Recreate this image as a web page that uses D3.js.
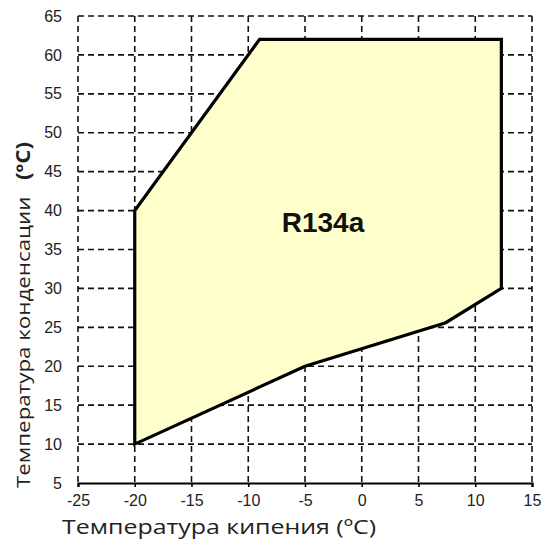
<!DOCTYPE html>
<html>
<head>
<meta charset="utf-8">
<script src="https://cdn.jsdelivr.net/npm/d3@7"></script>
<style>
  body { margin: 0; background: #fff; }
  svg { display: block; }
  .axis-title { font-family: "Open Sans", "Noto Sans", sans-serif; fill: #222; }
</style>
</head>
<body>
<div id="chart"></div>
<script>
// Evaporation temperature (x) and condensation temperature (y) ticks
const xTicks = [-25, -20, -15, -10, -5, 0, 5, 10, 15];
const yTicks = [5, 10, 15, 20, 25, 30, 35, 40, 45, 50, 55, 60, 65];

// Operating envelope outline for R134a
const envelopeX = [-20, -20, -9, 12.3, 12.3, 7.4, -5, -20];
const envelopeY = [10, 40, 62, 62, 30, 25.6, 20, 10];

const seriesLabel = 'R134a';
const xTitle = 'Температура кипения (ºC)';
const yTitle = 'Температура конденсации';
const yUnit = '(ºC)';

const width = 547, height = 549;
const plot = { left: 78, right: 532, top: 16, bottom: 483 };
const tickFont = 'Arial, "Liberation Sans", sans-serif';

const svg = d3.select('#chart').append('svg')
    .attr('width', width)
    .attr('height', height);

const x = d3.scaleLinear().domain([-25, 15]).range([plot.left, plot.right]);
const y = d3.scaleLinear().domain([5, 65]).range([plot.bottom, plot.top]);

// Dashed grid
const grid = svg.append('g');
xTicks.forEach(t => {
    grid.append('line')
        .attr('x1', x(t)).attr('x2', x(t))
        .attr('y1', y(65)).attr('y2', y(5))
        .attr('stroke', '#111')
        .attr('stroke-width', 1.6)
        .attr('stroke-dasharray', '6,4');
});
yTicks.slice(1).forEach(t => {
    grid.append('line')
        .attr('x1', x(-25)).attr('x2', x(15))
        .attr('y1', y(t)).attr('y2', y(t))
        .attr('stroke', '#111')
        .attr('stroke-width', 1.6)
        .attr('stroke-dasharray', '6,4');
});

// Envelope polygon
const pts = envelopeX.map((v, i) => [x(v), y(envelopeY[i])]);
svg.append('path')
    .attr('d', d3.line()(pts) + 'Z')
    .attr('fill', '#ffffcc')
    .attr('stroke', '#000')
    .attr('stroke-width', 3.2)
    .attr('stroke-linejoin', 'miter');

// Bottom axis
const xAxis = svg.append('g')
    .attr('transform', `translate(0,${plot.bottom})`)
    .call(d3.axisBottom(x).tickValues(xTicks).tickSize(4).tickFormat(d => String(d)));
xAxis.select('.domain').attr('stroke', '#000').attr('stroke-width', 2.2);
xAxis.selectAll('.tick line').attr('stroke', '#000').attr('stroke-width', 1.6);
xAxis.selectAll('.tick text')
    .attr('y', 12)
    .attr('dy', '0.71em')
    .attr('fill', '#222')
    .style('font-size', '16px')
    .style('font-family', tickFont);

// Left axis
const yAxis = svg.append('g')
    .attr('transform', `translate(${plot.left},0)`)
    .call(d3.axisLeft(y).tickValues(yTicks).tickSize(0).tickPadding(16).tickFormat(d => String(d)));
yAxis.select('.domain').remove();
yAxis.selectAll('.tick text')
    .attr('fill', '#222')
    .style('font-size', '16px')
    .style('font-family', tickFont);

// Series label
svg.append('text')
    .attr('x', 323)
    .attr('y', 232)
    .attr('text-anchor', 'middle')
    .attr('font-family', tickFont)
    .attr('font-weight', 'bold')
    .attr('font-size', 28)
    .attr('fill', '#111')
    .text(seriesLabel);

// X title
svg.append('text')
    .attr('class', 'axis-title')
    .attr('x', 62)
    .attr('y', 534)
    .attr('font-size', 20)
    .attr('textLength', 314)
    .attr('lengthAdjust', 'spacingAndGlyphs')
    .text(xTitle);

// Y title
const yt = svg.append('text')
    .attr('class', 'axis-title')
    .attr('transform', 'translate(30,488) rotate(-90)')
    .attr('font-size', 19)
    .attr('textLength', 346)
    .attr('lengthAdjust', 'spacingAndGlyphs');
yt.append('tspan').text(yTitle);
yt.append('tspan').attr('dx', 14).attr('font-weight', 'bold').text(yUnit);
</script>
</body>
</html>
